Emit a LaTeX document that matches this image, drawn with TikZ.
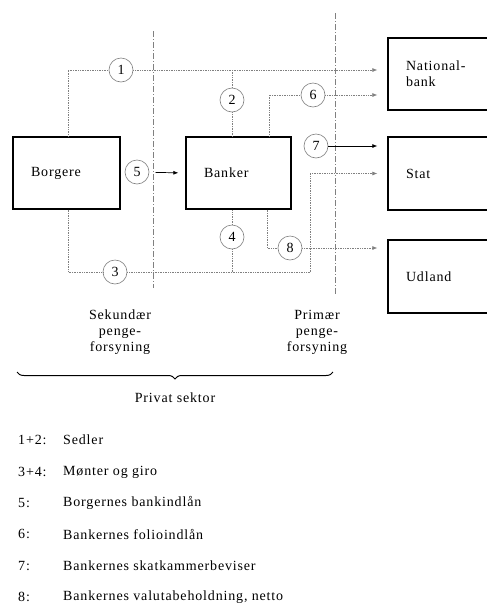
\documentclass[tikz,border=0pt]{standalone}
\usepackage{fontspec}
\setmainfont[LetterSpace=6]{Liberation Serif}
\usetikzlibrary{decorations.pathreplacing,arrows.meta,calc}
\begin{document}
\begin{tikzpicture}[x=1pt,y=-1pt,
  box/.style={draw=black, line width=1.3pt, minimum height=72pt, inner xsep=18pt, align=left, font=\fontsize{14}{16}\selectfont},
  num/.style={circle, draw=gray, line width=0.6pt, minimum size=24pt, inner sep=0pt, font=\fontsize{14}{16}\selectfont},
  conn/.style={draw=gray, line width=0.7pt, densely dotted},
  tip/.style={-{Latex[length=5pt,width=4pt]}, shorten >=10pt},
  divider/.style={draw=gray, line width=0.6pt, dash pattern=on 6pt off 2pt on 1pt off 2pt},
  lbl/.style={align=center, font=\fontsize{14}{16}\selectfont},
  leg/.style={anchor=west, inner sep=0pt, font=\fontsize{14}{16}\selectfont}]
\clip (0,0) rectangle (487,606);
\fill[white] (0,0) rectangle (487,606);
% boxes
\node[box, text width=71pt] (borg) at (66.5,173) {Borgere};
\node[box, text width=69pt] (bank) at (238.5,173) {Banker};
\node[box, text width=96pt] (nat) at (454,74) {National-\\bank};
\node[box, text width=96pt, minimum height=73pt] (stat) at (454,173.5) {Stat};
\node[box, text width=96pt, minimum height=73pt] (udl) at (454,276.5) {Udland};
% dividers
\coordinate (d1t) at (153,31);
\coordinate (d1b) at (153,288);
\coordinate (d2t) at (335,13);
\coordinate (d2b) at (335,295);
\draw[divider] (d1t) -- (d1b);
\draw[divider] (d2t) -- (d2b);
% circles
\node[num] (c1) at (121,70) {1};
\node[num] (c2) at (232,100) {2};
\node[num] (c3) at (115,272) {3};
\node[num] (c4) at (232,237) {4};
\node[num] (c5) at (137,172) {5};
\node[num] (c6) at (313,95) {6};
\node[num] (c7) at (316,146) {7};
\node[num] (c8) at (290,248) {8};
\coordinate (k) at (310,272);
% connectors
\draw[conn] ([xshift=1.5pt]borg.north) |- (c1);
\draw[conn, tip] (c1) -- (c1 -| nat.west);
\draw[conn] (c2) -- (c2 |- c1);
\draw[conn] (c2) -- (c2 |- bank.north);
\draw[conn] ([xshift=30.5pt]bank.north) |- (c6);
\draw[conn, tip] (c6) -- (c6 -| nat.west);
\draw[draw=black, line width=0.7pt, tip] (c7) -- (c7 -| stat.west);
\draw[draw=black, line width=0.7pt, -{Latex[length=5pt,width=4pt]}, shorten <=6pt, shorten >=7pt] (c5) -- (bank.west);
\draw[conn] ([xshift=1.5pt]borg.south) |- (c3);
\draw[conn] (c3) -- (k);
\draw[conn, tip] (k) |- (stat.west);
\draw[conn] (c4) -- (c4 |- bank.south);
\draw[conn] (c4) -- (c4 |- k);
\draw[conn] ([xshift=28.5pt]bank.south) |- (c8);
\draw[conn, tip] (c8) -- (c8 -| udl.west);
% labels
\node[lbl] (sek) at (120,332) {Sekundær\\penge-\\forsyning};
\node[lbl] (pri) at (317,332) {Primær\\penge-\\forsyning};
\coordinate (bl) at (17,372);
\coordinate (br) at (333,372);
\draw[line width=1pt, decorate, decoration={brace, mirror, amplitude=7pt, aspect=0.5}] (bl) -- (br);
\node[lbl] (priv) at (175,398) {Privat sektor};
% legend
\node[leg] (n1) at (18,440) {1+2:};
\node[leg] (t1) at (63,440) {Sedler};
\node[leg] (n2) at (18,472) {3+4:};
\node[leg] (t2) at (63,472) {Mønter og giro};
\node[leg] (n3) at (18,503) {5:};
\node[leg] (t3) at (63,503) {Borgernes bankindlån};
\node[leg] (n4) at (18,534) {6:};
\node[leg] (t4) at (63,534) {Bankernes folioindlån};
\node[leg] (n5) at (18,566) {7:};
\node[leg] (t5) at (63,566) {Bankernes skatkammerbeviser};
\node[leg] (n6) at (18,597) {8:};
\node[leg] (t6) at (63,597) {Bankernes valutabeholdning, netto};
\end{tikzpicture}
\end{document}
